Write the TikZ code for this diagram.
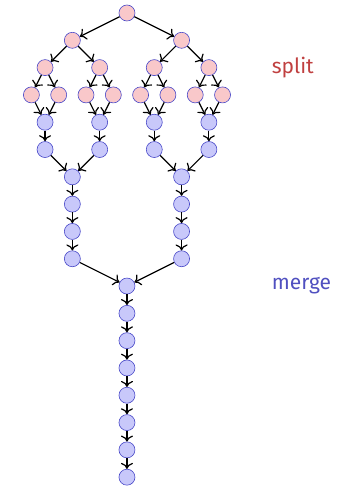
\documentclass[tikz,border=0pt]{standalone}
\usepackage{fontspec}
\setsansfont{Fira Sans}
\usepackage{tikz}
\usetikzlibrary{arrows.meta, positioning}
\definecolor{splitfill}{RGB}{249,200,202}
\definecolor{mergefill}{RGB}{200,200,250}
\definecolor{ring}{RGB}{72,72,200}
\definecolor{splitred}{RGB}{192,64,64}
\definecolor{mergeblue}{RGB}{80,80,192}

\begin{document}
\begin{tikzpicture}[
  x=13.65pt, y=-27.3pt,
  task/.style={circle, draw=ring, line width=0.6pt, minimum size=16pt, inner sep=0pt},
  splitnode/.style={task, fill=splitfill},
  mergenode/.style={task, fill=mergefill},
  dep/.style={-{To[width=12pt, length=6pt]}, line width=1.2pt},
  phase/.style={anchor=west, inner sep=0pt, font=\sffamily\fontsize{21}{24}\selectfont}
]
\useasboundingbox (-9.30,-0.476) rectangle (16.63,17.36);

% Split tree
\node[splitnode] (s0) at (0,0) {};
\foreach \i/\x in {1/-4, 2/4} \node[splitnode] (s1-\i) at (\x,1) {};
\foreach \i/\x in {1/-6, 2/-2, 3/2, 4/6} \node[splitnode] (s2-\i) at (\x,2) {};
\foreach \i in {1,...,8} \node[splitnode] (s3-\i) at ({2*\i-9},3) {};

% Merge side
\foreach \i/\x in {1/-6, 2/-2, 3/2, 4/6} {
  \node[mergenode] (m4-\i) at (\x,4) {};
  \node[mergenode] (m5-\i) at (\x,5) {};
}
\foreach \i/\x in {1/-4, 2/4} \foreach \r in {6,...,9} \node[mergenode] (m\r-\i) at (\x,\r) {};
\foreach \r in {10,...,17} \node[mergenode] (t\r) at (0,\r) {};

% Split edges
\foreach \i in {1,2} \draw[dep] (s0) -- (s1-\i);
\foreach \i/\p in {1/1, 2/1, 3/2, 4/2} \draw[dep] (s1-\p) -- (s2-\i);
\foreach \i/\p in {1/1, 2/1, 3/2, 4/2, 5/3, 6/3, 7/4, 8/4} {
  \draw[dep] (s2-\p) -- (s3-\i);
  \draw[dep] (s3-\i) -- (m4-\p);
}

% Merge edges
\foreach \i in {1,...,4} \draw[dep] (m4-\i) -- (m5-\i);
\foreach \i/\p in {1/1, 2/1, 3/2, 4/2} \draw[dep] (m5-\i) -- (m6-\p);
\foreach \i in {1,2} {
  \draw[dep] (m6-\i) -- (m7-\i);
  \draw[dep] (m7-\i) -- (m8-\i);
  \draw[dep] (m8-\i) -- (m9-\i);
  \draw[dep] (m9-\i) -- (t10);
}
\foreach \r [evaluate=\r as \n using int(\r+1)] in {10,...,16} \draw[dep] (t\r) -- (t\n);

% Phase labels
\node[phase, text=splitred] (split) at (10.6,2) {split};
\node[phase, text=mergeblue] (merge) at (10.6,10) {merge};

\end{tikzpicture}
\end{document}
